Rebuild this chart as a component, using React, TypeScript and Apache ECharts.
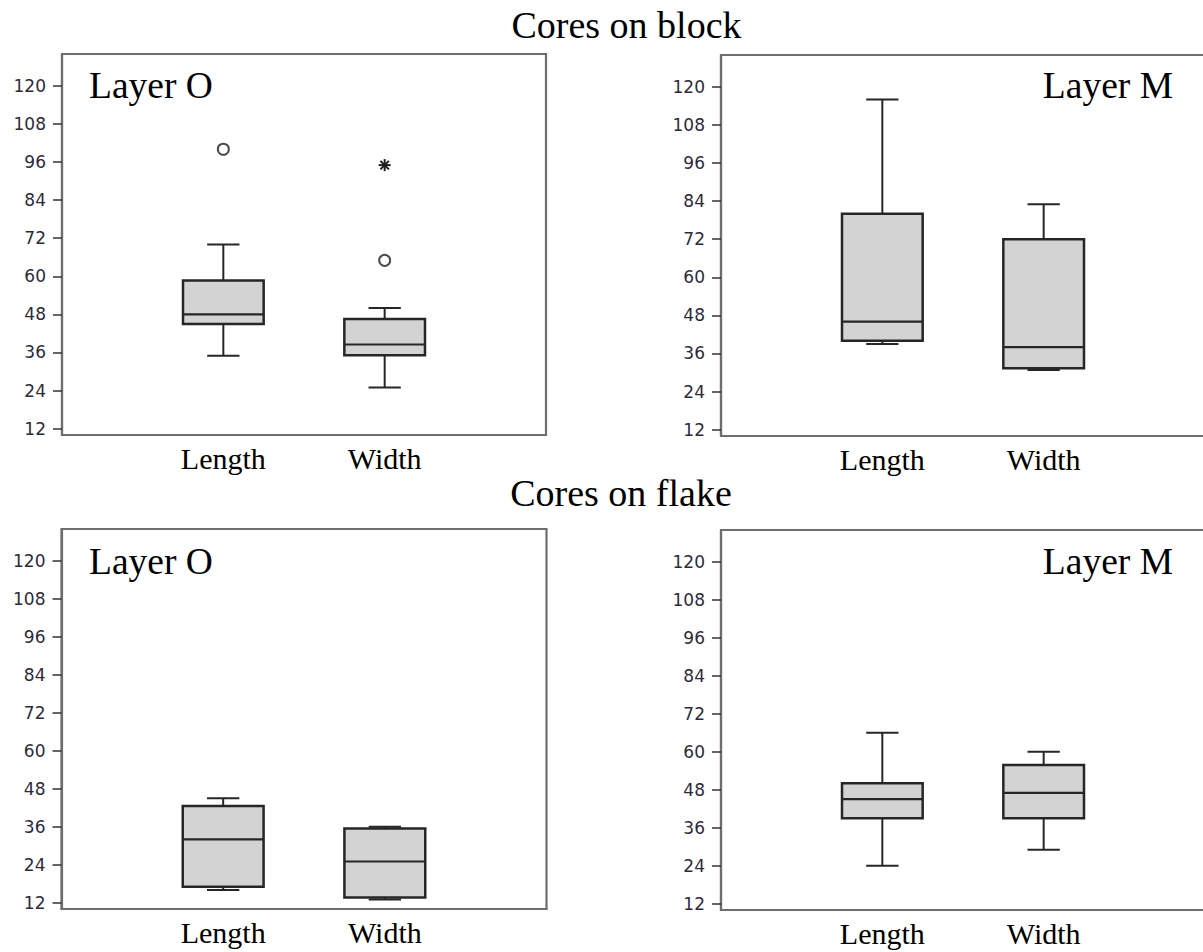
import React, { useEffect, useRef } from 'react';
import * as echarts from 'echarts';

// ---- data ----
const categories = ['Length', 'Width'];
const yTicks = [12, 24, 36, 48, 60, 72, 84, 96, 108, 120];
const groupTitles = ['Cores on block', 'Cores on flake'];
const panelTitles = ['Layer O', 'Layer M', 'Layer O', 'Layer M'];

// [min, Q1, median, Q3, max] for Length, Width
const blockLayerO = [[35, 45, 48, 58.7, 70], [25, 35.1, 38.5, 46.5, 50]];
const blockLayerM = [[39, 40, 46, 80, 116], [30.8, 31.3, 38, 72, 83]];
const flakeLayerO = [[16, 17, 32, 42.5, 45], [13, 13.6, 25, 35.4, 36]];
const flakeLayerM = [[24, 39, 45, 50, 66], [29, 39, 47, 55.8, 60]];

// outliers (open circles) and extreme values (asterisks): [category, value]
const blockLayerOOutliers: [string, number][] = [['Length', 100], ['Width', 65]];
const blockLayerOExtremes: [string, number][] = [['Width', 95]];
const blockLayerMOutliers: [string, number][] = [];
const flakeLayerOOutliers: [string, number][] = [];
const flakeLayerMOutliers: [string, number][] = [];
const noExtremes: [string, number][] = [];

const panelStats = [blockLayerO, blockLayerM, flakeLayerO, flakeLayerM];
const panelOutliers = [blockLayerOOutliers, blockLayerMOutliers, flakeLayerOOutliers, flakeLayerMOutliers];
const panelExtremes = [blockLayerOExtremes, noExtremes, noExtremes, noExtremes];

// ---- layout ----
const grids = [
  { left: 62, top: 54, width: 484, height: 381 },
  { left: 721, top: 55, width: 484, height: 381 },
  { left: 61.5, top: 529, width: 485, height: 380 },
  { left: 721, top: 530, width: 484, height: 380 },
];

const frameColor = '#6e6e6e';
const boxStroke = '#262626';

const catIndex = (c: string) => categories.indexOf(c) + 1;

const renderBox = (_params: any, api: any) => {
  const x = api.value(0);
  const pts = [1, 2, 3, 4, 5].map((d) => api.coord([x, api.value(d)]));
  const [lo, q1, md, q3, hi] = pts;
  const half = api.size([0.5, 0])[0] / 2;
  const cap = api.size([0.2, 0])[0] / 2;
  const cx = lo[0];
  const line = (x1: number, y1: number, x2: number, y2: number, w = 2) => ({
    type: 'line',
    shape: { x1, y1, x2, y2 },
    style: { stroke: boxStroke, lineWidth: w },
  });
  return {
    type: 'group',
    children: [
      line(cx, hi[1], cx, q3[1]),
      line(cx, q1[1], cx, lo[1]),
      line(cx - cap, hi[1], cx + cap, hi[1]),
      line(cx - cap, lo[1], cx + cap, lo[1]),
      {
        type: 'rect',
        shape: { x: cx - half, y: q3[1], width: 2 * half, height: q1[1] - q3[1] },
        style: { fill: '#d3d3d3', stroke: boxStroke, lineWidth: 2.5 },
      },
      line(cx - half, md[1], cx + half, md[1], 2.2),
    ],
  };
};

const renderStar = (_params: any, api: any) => {
  const [cx, cy] = api.coord([api.value(0), api.value(1)]);
  const r = 6;
  return {
    type: 'group',
    children: [0, 45, 90, 135].map((deg) => {
      const a = (deg * Math.PI) / 180;
      return {
        type: 'line',
        shape: {
          x1: cx - r * Math.cos(a),
          y1: cy - r * Math.sin(a),
          x2: cx + r * Math.cos(a),
          y2: cy + r * Math.sin(a),
        },
        style: { stroke: '#1e1e1e', lineWidth: 2 },
      };
    }),
  };
};

const textStyle = (text: string, size: number, align: string) => ({
  text,
  font: `${size}px "Liberation Serif"`,
  fill: '#000',
  textAlign: align,
  align,
  textVerticalAlign: 'middle',
  verticalAlign: 'middle',
});

export default function App() {
  const ref = useRef<HTMLDivElement>(null);

  useEffect(() => {
    if (!ref.current) return;
    const chart = echarts.init(ref.current, null, { renderer: 'svg' });

    const series: any[] = [];
    panelStats.forEach((stats, i) => {
      series.push({
        type: 'custom',
        xAxisIndex: i,
        yAxisIndex: i,
        renderItem: renderBox,
        encode: { x: 0, y: [1, 2, 3, 4, 5] },
        data: stats.map((s, j) => [j + 1, ...s]),
        silent: true,
      });
      const outs = panelOutliers[i];
      if (outs.length) {
        series.push({
          type: 'scatter',
          xAxisIndex: i,
          yAxisIndex: i,
          symbol: 'circle',
          symbolSize: 11,
          itemStyle: { color: '#fff', borderColor: '#4a4a4a', borderWidth: 2, opacity: 1 },
          data: outs.map(([c, v]) => [catIndex(c), v]),
          silent: true,
        });
      }
      const ext = panelExtremes[i];
      if (ext.length) {
        series.push({
          type: 'custom',
          xAxisIndex: i,
          yAxisIndex: i,
          renderItem: renderStar,
          encode: { x: 0, y: 1 },
          data: ext.map(([c, v]) => [catIndex(c), v]),
          silent: true,
        });
      }
    });

    const option: any = {
      animation: false,
      backgroundColor: '#fff',
      grid: grids.map((g) => ({
        left: g.left,
        top: g.top,
        width: g.width,
        height: g.height,
        show: true,
        borderColor: frameColor,
        borderWidth: 2.2,
        backgroundColor: 'transparent',
        containLabel: false,
        outerBoundsMode: 'none',
      })),
      xAxis: grids.map((_g, i) => ({
        gridIndex: i,
        type: 'value',
        min: 0,
        max: 3,
        axisLine: { show: true, lineStyle: { color: frameColor, width: 2.2 } },
        axisTick: { show: false },
        splitLine: { show: false },
        axisLabel: {
          customValues: [1, 2],
          formatter: (v: number) => categories[Math.round(v) - 1] ?? '',
          fontFamily: 'Liberation Serif',
          fontSize: 30,
          color: '#000',
          margin: 8,
        },
      })),
      yAxis: grids.map((_g, i) => ({
        gridIndex: i,
        type: 'value',
        min: 10,
        max: 130,
        axisLine: { show: true, lineStyle: { color: frameColor, width: 2.2 } },
        axisTick: {
          show: true,
          length: 9,
          customValues: yTicks,
          lineStyle: { color: '#333', width: 1.5 },
        },
        axisLabel: {
          customValues: yTicks,
          margin: 16,
          fontFamily: 'DejaVu Sans',
          fontSize: 17,
          color: '#2e2a3a',
        },
        splitLine: { show: false },
      })),
      graphic: [
        { type: 'text', x: 626.5, y: 24.5, style: textStyle(groupTitles[0], 38, 'center') },
        { type: 'text', x: 621, y: 492.5, style: textStyle(groupTitles[1], 38, 'center') },
        { type: 'text', x: 89, y: 85.5, style: textStyle(panelTitles[0], 37.5, 'left') },
        { type: 'text', x: 1173, y: 85, style: textStyle(panelTitles[1], 37.5, 'right') },
        { type: 'text', x: 89, y: 561.5, style: textStyle(panelTitles[2], 37.5, 'left') },
        { type: 'text', x: 1173, y: 561.5, style: textStyle(panelTitles[3], 37.5, 'right') },
      ],
      series,
    };

    chart.setOption(option);
    return () => chart.dispose();
  }, []);

  return (
    <div
      ref={ref}
      style={{ position: 'absolute', left: 0, top: 0, width: 1203, height: 952 }}
    />
  );
}
